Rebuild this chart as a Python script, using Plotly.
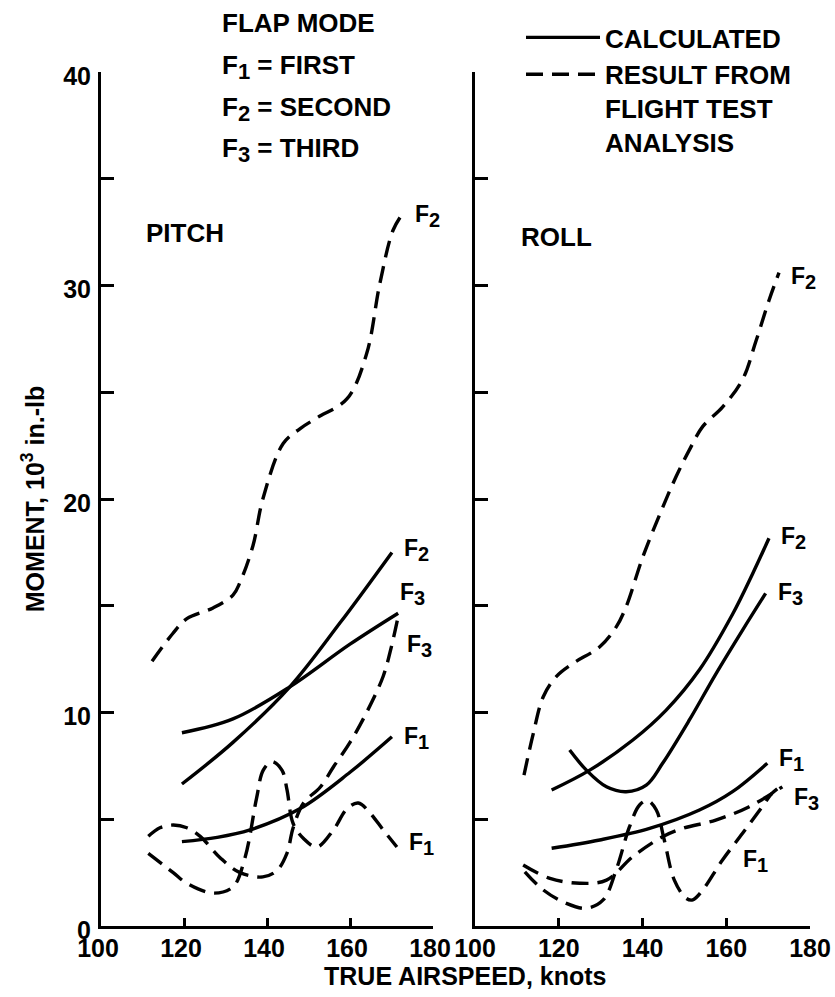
import plotly.graph_objects as go

W, H = 835, 997

# ---------------- data (knots, 10^3 in.-lb) ----------------
# PITCH - calculated
pitch_calc_f1_x = [119.5, 128, 135.9, 148, 160, 170.1]
pitch_calc_f1_y = [3.95, 4.15, 4.5, 5.5, 7.2, 8.86]
pitch_calc_f2_x = [119.5, 131.8, 145.5, 157.6, 170.1]
pitch_calc_f2_y = [6.65, 8.6, 11.2, 14.2, 17.5]
pitch_calc_f3_x = [119.5, 131.8, 145.5, 160, 171.6]
pitch_calc_f3_y = [9.05, 9.7, 11.2, 13.2, 14.65]
# PITCH - flight test
pitch_test_f1_x = [111.4, 117.4, 120.7, 127, 131.8, 134.7, 137.5, 139.1, 141.2, 143.6,
                   144.8, 146.3, 148.8, 152, 156, 159.3, 162, 164.8, 168, 171.3]
pitch_test_f1_y = [3.4, 2.5, 2.0, 1.54, 1.83, 3.2, 6.0, 7.3, 7.7, 7.3,
                   6.4, 4.8, 4.1, 3.7, 4.5, 5.5, 5.76, 5.3, 4.5, 3.7]
pitch_test_f2_x = [112.3, 117.3, 120.7, 127, 131.8, 133.5, 136.6, 139, 143.9, 148,
                   152, 159.3, 164, 167.2, 170.4, 172.8]
pitch_test_f2_y = [12.4, 13.7, 14.4, 14.9, 15.5, 16.1, 17.8, 20.0, 22.6, 23.3,
                   23.8, 24.7, 26.8, 30.1, 32.6, 33.4]
pitch_test_f3_x = [111.4, 114.2, 117.4, 120.7, 123.9, 128.7, 133.5, 139, 142.4, 144.8,
                   146.3, 148.8, 152.8, 156, 160, 164, 168, 170, 171.6]
pitch_test_f3_y = [4.2, 4.6, 4.73, 4.6, 4.2, 3.2, 2.5, 2.3, 2.6, 3.4,
                   4.6, 5.76, 6.5, 7.45, 8.6, 10.0, 11.7, 13.1, 14.5]

# ROLL - calculated
roll_calc_f1_x = [118.3, 129.8, 141.7, 153.6, 161.5, 169.8]
roll_calc_f1_y = [3.64, 4.03, 4.57, 5.43, 6.29, 7.62]
roll_calc_f2_x = [118.3, 127.4, 137.7, 145.6, 153.6, 161.5, 166.3, 170.2]
roll_calc_f2_y = [6.37, 7.3, 8.71, 10.1, 12.0, 14.6, 16.5, 18.16]
roll_calc_f3_x = [122.6, 126.6, 131.4, 136.1, 140.9, 144.8, 151.2, 157.5, 163.9, 169.4]
roll_calc_f3_y = [8.24, 7.3, 6.52, 6.29, 6.6, 7.62, 9.65, 11.8, 13.86, 15.58]
# ROLL - flight test
roll_test_f1_x = [111.9, 116.3, 121.8, 126.6, 130.6, 133.7, 136.9, 139.3, 141.3, 143.3,
                  145.2, 147.6, 150.4, 152, 154.4, 159.1, 163.9, 168.6, 170.9, 173.4]
roll_test_f1_y = [2.54, 1.69, 1.06, 0.83, 1.22, 2.62, 4.65, 5.67, 5.87, 5.43,
                  4.03, 2.15, 1.3, 1.22, 1.69, 3.09, 4.34, 5.59, 6.21, 6.6]
roll_test_f2_x = [111.7, 113.9, 116.3, 119.4, 123.4, 129.8, 133.7, 136.1, 140.1, 144.8,
                  148, 151.2, 154.4, 159.1, 163.9, 167.1, 170.2, 172.6]
roll_test_f2_y = [7.07, 9.0, 10.74, 11.68, 12.3, 13.08, 14.0, 14.96, 17.3, 19.6,
                  21.04, 22.3, 23.4, 24.3, 25.6, 27.4, 29.3, 30.6]
roll_test_f3_x = [111.5, 117.9, 125, 131.4, 137.7, 144.8, 149.6, 157.5, 165.5, 173.4]
roll_test_f3_y = [2.86, 2.23, 2.0, 2.15, 3.25, 4.18, 4.57, 4.96, 5.59, 6.52]

# curve labels: (mode number, x, y) at label position in data units
pitch_labels = [(2, 175.2, 33.4), (2, 172.5, 17.75), (3, 171.6, 15.7),
                (3, 173.3, 13.25), (1, 172.5, 8.95), (1, 173.7, 3.98)]
roll_labels = [(2, 175.0, 30.5), (2, 172.6, 18.3), (3, 171.9, 15.7),
               (1, 172.1, 7.9), (3, 175.7, 6.1), (1, 163.6, 3.2)]

x_tickvals = [100, 120, 140, 160, 180]
x_ticktext = ["100", "120", "140", "160", "180"]
y_tickvals = [0, 5, 10, 15, 20, 25, 30, 35, 40]
y_ticktext = ["0", "", "10", "", "20", "", "30", "", "40"]

FONT = "Liberation Sans, Arial, Helvetica, sans-serif"
LW = 3.4
DASH = "17px,9px"


def fsub(n, size):
    return "F<sub><span style='font-size:%dpx'>%d</span></sub>" % (size, n)


fig = go.Figure()


def add(x, y, dashed, xa, ya, name=None, show=False):
    fig.add_trace(go.Scatter(
        x=x, y=y, mode="lines", xaxis=xa, yaxis=ya,
        line=dict(color="black", width=LW, dash=DASH if dashed else "solid",
                  shape="spline", smoothing=1.0),
        name=name if name else "", showlegend=show, hoverinfo="skip"))


add(pitch_calc_f1_x, pitch_calc_f1_y, False, "x", "y", "<b>CALCULATED</b>", True)
add(pitch_test_f1_x, pitch_test_f1_y, True, "x", "y",
    "<b>RESULT FROM<br>FLIGHT TEST<br>ANALYSIS</b>", True)
add(pitch_calc_f2_x, pitch_calc_f2_y, False, "x", "y")
add(pitch_calc_f3_x, pitch_calc_f3_y, False, "x", "y")
add(pitch_test_f2_x, pitch_test_f2_y, True, "x", "y")
add(pitch_test_f3_x, pitch_test_f3_y, True, "x", "y")
add(roll_calc_f1_x, roll_calc_f1_y, False, "x2", "y2")
add(roll_calc_f2_x, roll_calc_f2_y, False, "x2", "y2")
add(roll_calc_f3_x, roll_calc_f3_y, False, "x2", "y2")
add(roll_test_f1_x, roll_test_f1_y, True, "x2", "y2")
add(roll_test_f2_x, roll_test_f2_y, True, "x2", "y2")
add(roll_test_f3_x, roll_test_f3_y, True, "x2", "y2")

ydom = [(H - 926) / H, (H - 72) / H]
tickfont = dict(family=FONT, size=25, color="black", weight="bold")

xcommon = dict(range=[100, 180], tickvals=x_tickvals, ticktext=x_ticktext,
               ticks="inside", ticklen=8, tickwidth=3, tickcolor="black",
               showline=True, linewidth=3, linecolor="black", showgrid=False,
               zeroline=False, tickfont=tickfont, fixedrange=True,
               ticklabelstandoff=-2, ticklabeloverflow="allow")
ycommon = dict(range=[0, 40], tickvals=y_tickvals, ticks="inside", ticklen=13,
               tickwidth=3, tickcolor="black", showline=True, linewidth=3,
               linecolor="black", showgrid=False, zeroline=False, tickfont=tickfont,
               domain=ydom, fixedrange=True)

fig.update_layout(
    width=W, height=H, margin=dict(l=0, r=0, t=0, b=0, autoexpand=False),
    paper_bgcolor="white", plot_bgcolor="white",
    font=dict(family=FONT, color="black", size=24),
    xaxis=dict(domain=[101 / W, 433 / W], anchor="y", ticklabelshift=-3, **xcommon),
    xaxis2=dict(domain=[475 / W, 810 / W], anchor="y2", **xcommon),
    yaxis=dict(anchor="x", ticktext=y_ticktext, ticklabelstandoff=2, ticklabelshift=4,
               title=dict(text="<b>MOMENT, 10<sup>3</sup> in.-lb</b>",
                          font=dict(family=FONT, size=25, color="black"), standoff=12),
               **ycommon),
    yaxis2=dict(anchor="x2", showticklabels=False, **ycommon),
    showlegend=True,
    legend=dict(x=521 / W, y=1 - 14 / H, xanchor="left", yanchor="top",
                bgcolor="rgba(0,0,0,0)", borderwidth=0, itemwidth=74,
                valign="top", tracegroupgap=9,
                font=dict(family=FONT, size=26, color="black")),
)

ann = []


def text_px(txt, px, py, size=26, xanchor="left"):
    ann.append(dict(text=txt, x=px / W, y=1 - py / H, xref="paper", yref="paper",
                    xanchor=xanchor, yanchor="middle", showarrow=False,
                    font=dict(family=FONT, size=size, color="black")))


text_px("<b>FLAP MODE</b>", 220, 23)
text_px("<b>" + fsub(1, 22) + " = FIRST</b>", 220, 67)
text_px("<b>" + fsub(2, 22) + " = SECOND</b>", 220, 109)
text_px("<b>" + fsub(3, 22) + " = THIRD</b>", 220, 150)
text_px("<b>PITCH</b>", 144, 233)
text_px("<b>ROLL</b>", 519, 237)
text_px("<b>TRUE AIRSPEED, knots</b>", 465, 976, size=25, xanchor="center")

for n, x, y in pitch_labels:
    ann.append(dict(text="<b>" + fsub(n, 20) + "</b>", x=x, y=y, xref="x", yref="y",
                    xanchor="left", yanchor="middle", yshift=-3, showarrow=False,
                    font=dict(family=FONT, size=23, color="black")))
for n, x, y in roll_labels:
    ann.append(dict(text="<b>" + fsub(n, 20) + "</b>", x=x, y=y, xref="x2", yref="y2",
                    xanchor="left", yanchor="middle", yshift=-3, showarrow=False,
                    font=dict(family=FONT, size=23, color="black")))

fig.update_layout(annotations=ann)
fig.write_html("out.html")
